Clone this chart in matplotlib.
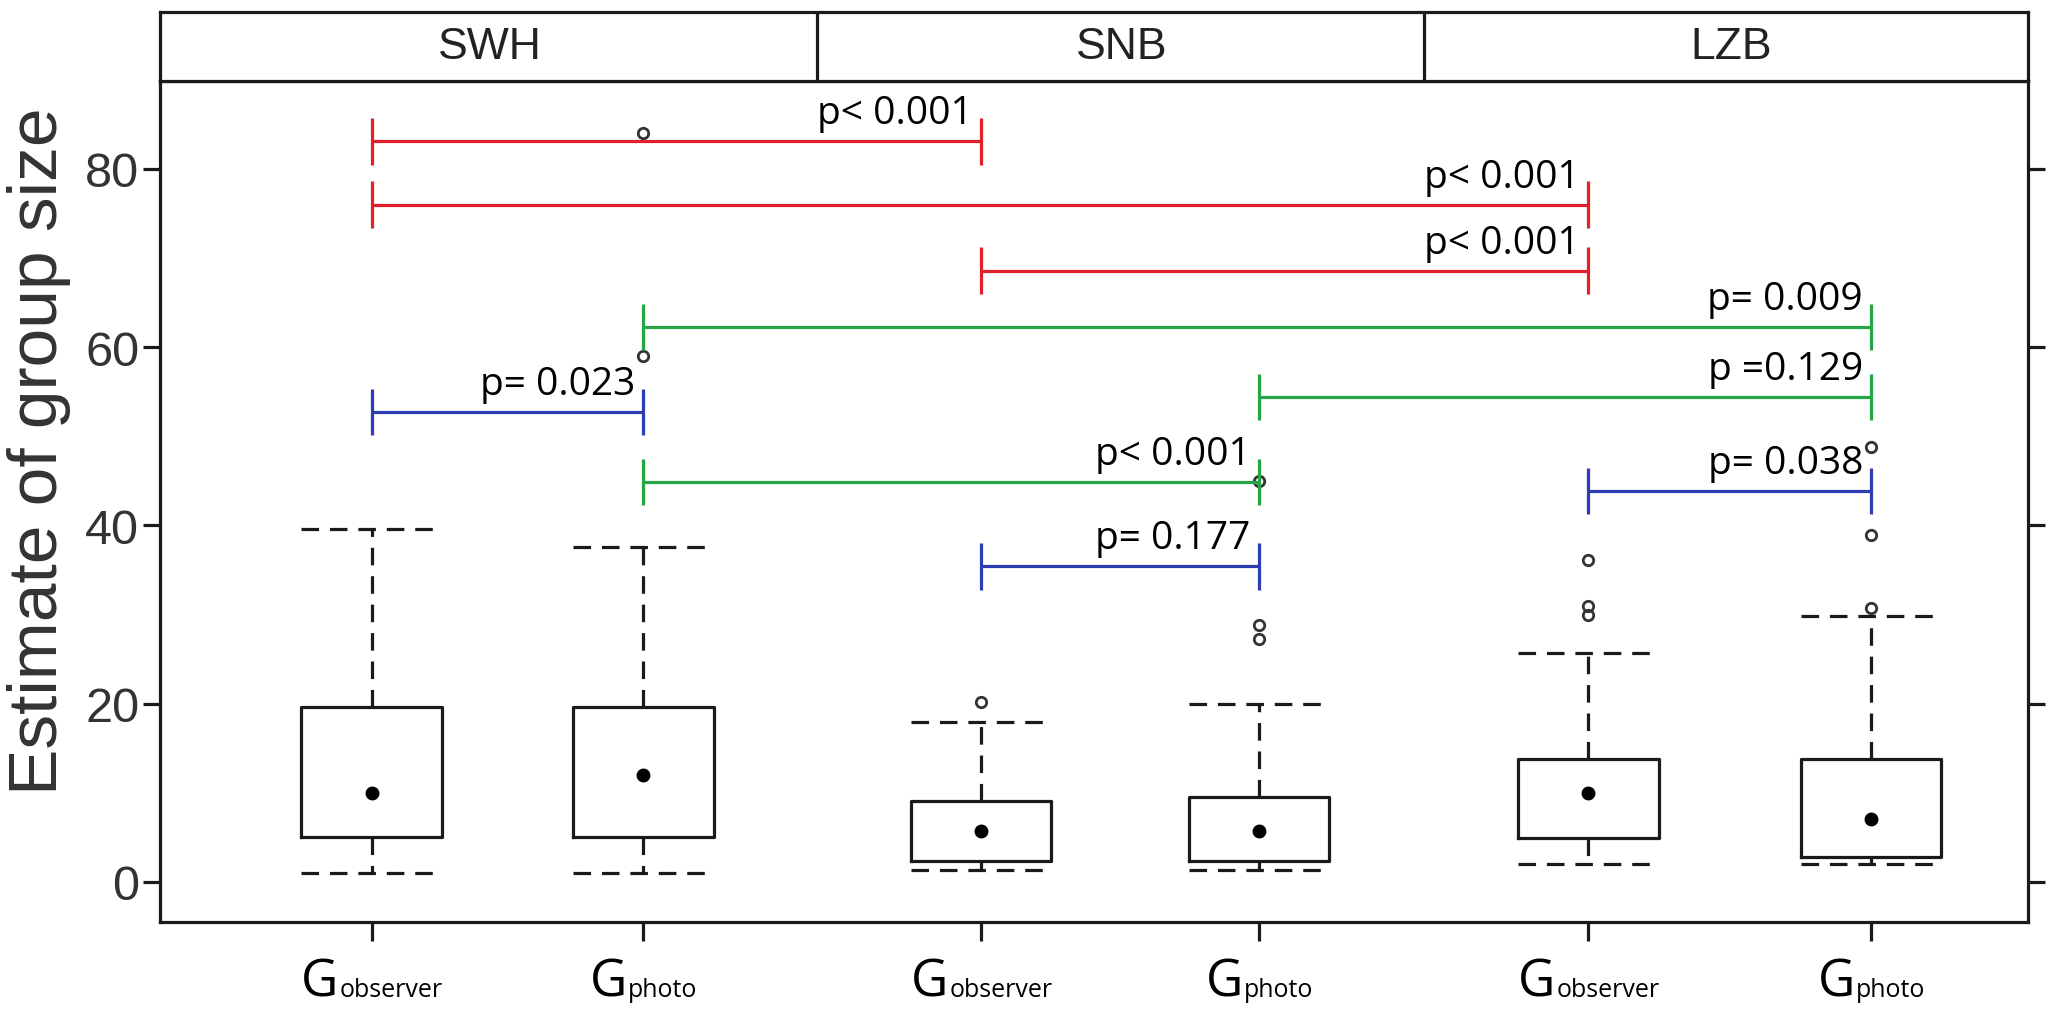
import matplotlib
matplotlib.use("Agg")
import matplotlib.pyplot as plt
from matplotlib import font_manager

# ── data ──────────────────────────────────────────────────────────────────────
sites = ["SWH", "SNB", "LZB"]
methods = ["observer", "photo", "observer", "photo", "observer", "photo"]
whislo = [1.0, 1.0, 1.4, 1.4, 2.0, 2.0]
q1     = [5.0, 5.0, 2.3, 2.3, 4.9, 2.8]
med    = [10.0, 12.0, 5.7, 5.7, 10.0, 7.1]
q3     = [19.6, 19.6, 9.1, 9.5, 13.8, 13.8]
whishi = [39.6, 37.6, 17.9, 20.0, 25.7, 29.8]
fliers = [[], [59, 84], [20.2], [27.3, 28.8, 45], [30, 31, 36.1], [30.7, 38.9, 48.8]]

# pairwise comparisons: box index from / to, bracket height, label, colour group
cmp_from = [0, 0, 2, 1, 3, 0, 1, 2, 4]
cmp_to   = [2, 4, 4, 5, 5, 1, 3, 3, 5]
cmp_y    = [83.1, 76.0, 68.6, 62.3, 54.4, 52.7, 44.9, 35.4, 43.9]
cmp_lab  = ["p< 0.001", "p< 0.001", "p< 0.001", "p= 0.009", "p =0.129",
            "p= 0.023", "p< 0.001", "p= 0.177", "p= 0.038"]
cmp_kind = ["red", "red", "red", "green", "green", "blue", "green", "blue", "blue"]

# ── layout ────────────────────────────────────────────────────────────────────
pos = [0.97, 1.96, 3.19, 4.2, 5.4, 6.43]
dividers = [2.59, 4.8]
strip_x = [1.4, 3.7, 5.92]
COLS = {"red": "#e0202b", "green": "#25a543", "blue": "#2f3db3"}
INK = "#1a1a1a"
LW = 2.3

names = {f.name for f in font_manager.fontManager.ttflist}
ARIAL = "Liberation Sans"
NARROW = "Liberation Sans Narrow" if "Liberation Sans Narrow" in names else ARIAL
PFONT = "Open Sans"

W, H = 2062, 1012
fig = plt.figure(figsize=(W / 100, H / 100), dpi=100)
fig.patch.set_facecolor("white")
L, R, B, T, ST = 160, 2028, 923, 82, 13
ax = fig.add_axes([L / W, 1 - B / H, (R - L) / W, (B - T) / H])
sax = fig.add_axes([L / W, 1 - T / H, (R - L) / W, (T - ST) / H])
XLIM = (0.2, 7.0)

stats = []
for i in range(6):
    stats.append(dict(med=med[i], q1=q1[i], q3=q3[i], whislo=whislo[i],
                      whishi=whishi[i], fliers=fliers[i]))

dash = (0, (5.5, 3.4))
ax.bxp(stats, positions=pos, widths=0.51, capwidths=0.51, showfliers=True,
       boxprops=dict(color=INK, linewidth=LW),
       whiskerprops=dict(color=INK, linewidth=LW, linestyle=dash),
       capprops=dict(color=INK, linewidth=LW, linestyle=dash),
       medianprops=dict(linestyle="none"),
       flierprops=dict(marker="o", markerfacecolor="none", markeredgecolor="#333333",
                       markersize=7.5, markeredgewidth=2.0))
ax.plot(pos, med, "o", color="black", markersize=9, zorder=4)

# significance brackets
cap = 2.6
for a, b, y, lab, k in zip(cmp_from, cmp_to, cmp_y, cmp_lab, cmp_kind):
    c = COLS[k]
    x1, x2 = pos[a], pos[b]
    ax.plot([x1, x2], [y, y], color=c, lw=LW, solid_capstyle="butt")
    ax.plot([x1, x1], [y - cap, y + cap], color=c, lw=LW, solid_capstyle="butt")
    ax.plot([x2, x2], [y - cap, y + cap], color=c, lw=LW, solid_capstyle="butt")
    ax.annotate(lab, xy=(x2, y), xytext=(-6, 13), textcoords="offset points",
                ha="right", va="baseline", fontsize=28, family=PFONT, color="black")

ax.set_xlim(*XLIM)
ax.set_ylim(-4.49, 89.87)
ax.set_yticks([0, 20, 40, 60, 80])
ax.set_xticks(pos)
ax.set_xticklabels([])
ax.tick_params(axis="y", left=True, right=True, direction="out", length=12,
               width=LW, pad=3, labelsize=35, colors=INK, labelcolor="#333333")
ax.tick_params(axis="x", direction="out", length=14, width=LW, colors=INK)
for lbl in ax.get_yticklabels():
    lbl.set_family(NARROW)
for sp in ax.spines.values():
    sp.set_linewidth(LW)
    sp.set_color(INK)

ax.set_ylabel("Estimate of group size", fontsize=50, family=ARIAL,
              color="#333333", va="center")
ax.yaxis.set_label_coords((39 - L) / (R - L), 0.561)

# G with subscript method names under each box, centred on the tick
base = (B - 997) / (B - T)
gl, sl = [], []
for p, m in zip(pos, methods):
    g = ax.annotate("G", xy=(p, base), xycoords=("data", "axes fraction"),
                    xytext=(0, 0), textcoords="offset points", ha="right",
                    va="baseline", fontsize=37, family=PFONT, color="black",
                    annotation_clip=False)
    s = ax.annotate(m, xy=(p, base), xycoords=("data", "axes fraction"),
                    xytext=(0, 0), textcoords="offset points", ha="left",
                    va="baseline", fontsize=18, family=PFONT, color="black",
                    annotation_clip=False)
    gl.append(g)
    sl.append(s)

fig.canvas.draw()
r = fig.canvas.get_renderer()
for g, s in zip(gl, sl):
    wg = g.get_window_extent(r).width
    ws = s.get_window_extent(r).width
    joint = (wg - ws) / 2 * 72 / fig.dpi
    g.set_position((joint, 0))
    s.set_position((joint + 0.5, 0))

# strip header
sax.set_xlim(*XLIM)
sax.set_ylim(0, 1)
sax.set_xticks([])
sax.set_yticks([])
for sp in sax.spines.values():
    sp.set_linewidth(LW)
    sp.set_color(INK)
for d in dividers:
    sax.axvline(d, color=INK, lw=LW)
for x, s in zip(strip_x, sites):
    sax.text(x, 0.5, s, ha="center", va="center", fontsize=32, family=ARIAL,
             color="#222222")

fig.savefig("out.png", dpi=100, facecolor="white")
